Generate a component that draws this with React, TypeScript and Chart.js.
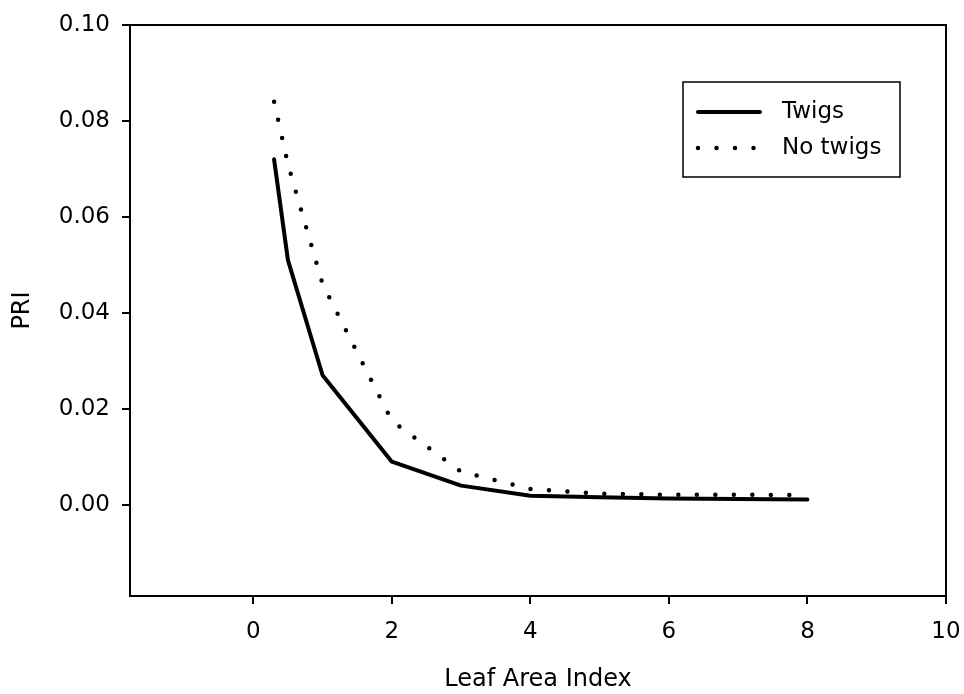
import { useEffect, useRef } from "react";
import { Chart, registerables } from "chart.js";

Chart.register(...registerables);

// Leaf area index (x) and PRI (y) for the two canopy variants
const leafAreaIndex = [0.3, 0.5, 1, 2, 3, 4, 5, 6, 7, 8];
const twigsPRI = [0.072, 0.051, 0.027, 0.009, 0.004, 0.0019, 0.0016, 0.0013, 0.0012, 0.0011];
const noTwigsPRI = [0.084, 0.071, 0.046, 0.0175, 0.0069, 0.0033, 0.0023, 0.0021, 0.0021, 0.002];
const seriesLabels = ["Twigs", "No twigs"];

// Axis ticks and ranges
const xTickValues = [0, 2, 4, 6, 8, 10];
const yTickValues = [0, 0.02, 0.04, 0.06, 0.08, 0.1];
const xRange = [-1.78, 10];
const yRange = [-0.019, 0.1];

const FONT_FAMILY = "'DejaVu Sans', 'Liberation Sans', Arial, sans-serif";
const INK = "#000000";

// Frame around the plotting area
const frameBox = {
  id: "frameBox",
  afterDatasetsDraw(chart: any) {
    const { ctx, chartArea } = chart;
    ctx.save();
    ctx.strokeStyle = INK;
    ctx.lineWidth = 2;
    ctx.strokeRect(chartArea.left, chartArea.top, chartArea.right - chartArea.left, chartArea.bottom - chartArea.top);
    ctx.restore();
  },
};

// Boxed legend inside the plot, upper right
const boxLegend = {
  id: "boxLegend",
  afterDraw(chart: any) {
    const { ctx, chartArea } = chart;
    const x0 = chartArea.right - 263;
    const y0 = chartArea.top + 57;
    const w = 217;
    const h = 95;
    ctx.save();
    ctx.fillStyle = "#ffffff";
    ctx.fillRect(x0, y0, w, h);
    ctx.strokeStyle = INK;
    ctx.lineWidth = 1.5;
    ctx.strokeRect(x0, y0, w, h);
    const rows = [y0 + 30, y0 + 66];
    chart.data.datasets.forEach((ds: any, i: number) => {
      const y = rows[i];
      ctx.beginPath();
      ctx.strokeStyle = ds.borderColor;
      ctx.lineWidth = ds.borderWidth;
      ctx.lineCap = ds.borderCapStyle || "butt";
      ctx.setLineDash(ds.borderDash || []);
      ctx.moveTo(x0 + 15, y);
      ctx.lineTo(x0 + 77, y);
      ctx.stroke();
      ctx.setLineDash([]);
      ctx.fillStyle = INK;
      ctx.font = `23px ${FONT_FAMILY}`;
      ctx.textBaseline = "middle";
      ctx.textAlign = "left";
      ctx.fillText(ds.label, x0 + 99, y);
    });
    ctx.restore();
  },
};

export default function App() {
  const canvasRef = useRef<HTMLCanvasElement | null>(null);

  useEffect(() => {
    document.body.style.margin = "0";
    const canvas = canvasRef.current;
    if (!canvas) return;

    const toPoints = (ys: number[]) => leafAreaIndex.map((x, i) => ({ x, y: ys[i] }));

    const tickFont = { family: FONT_FAMILY, size: 23 };
    const titleFont = { family: FONT_FAMILY, size: 24 };

    const chart = new Chart(canvas, {
      type: "line",
      data: {
        datasets: [
          {
            label: seriesLabels[0],
            data: toPoints(twigsPRI),
            borderColor: INK,
            borderWidth: 4,
            borderCapStyle: "round",
            borderJoinStyle: "round",
            pointRadius: 0,
            tension: 0,
            fill: false,
          },
          {
            label: seriesLabels[1],
            data: toPoints(noTwigsPRI),
            borderColor: INK,
            borderWidth: 4.5,
            borderDash: [0, 18.5],
            borderCapStyle: "round",
            pointRadius: 0,
            tension: 0,
            fill: false,
          },
        ],
      },
      options: {
        responsive: false,
        animation: false,
        events: [],
        layout: { padding: { top: 25, right: 18, left: 0, bottom: 0 } },
        plugins: {
          legend: { display: false },
          tooltip: { enabled: false },
        },
        scales: {
          x: {
            type: "linear",
            min: xRange[0],
            max: xRange[1],
            afterBuildTicks: (scale: any) => {
              scale.ticks = xTickValues.map((value) => ({ value }));
            },
            afterFit: (scale: any) => {
              scale.height = 98;
              scale.paddingLeft = 0;
              scale.paddingRight = 18;
            },
            ticks: {
              color: INK,
              font: tickFont,
              padding: 14,
              maxRotation: 0,
              autoSkip: false,
              callback: (v: any) => String(v),
            },
            grid: {
              display: true,
              drawOnChartArea: false,
              drawTicks: true,
              tickLength: 8,
              lineWidth: 2,
              color: INK,
            },
            border: { display: false },
            title: {
              display: true,
              text: "Leaf Area Index",
              color: INK,
              font: titleFont,
              padding: { top: 0, bottom: 0 },
            },
          },
          y: {
            type: "linear",
            min: yRange[0],
            max: yRange[1],
            afterBuildTicks: (scale: any) => {
              scale.ticks = yTickValues.map((value) => ({ value }));
            },
            afterFit: (scale: any) => {
              scale.width = 130;
              scale.paddingTop = 25;
              scale.paddingBottom = 0;
            },
            ticks: {
              color: INK,
              font: tickFont,
              padding: 12,
              autoSkip: false,
              callback: (v: any) => Number(v).toFixed(2),
            },
            grid: {
              display: true,
              drawOnChartArea: false,
              drawTicks: true,
              tickLength: 8,
              lineWidth: 2,
              color: INK,
            },
            border: { display: false },
            title: {
              display: true,
              text: "PRI",
              color: INK,
              font: titleFont,
              padding: { top: 8, bottom: 0 },
            },
          },
        },
      },
      plugins: [frameBox, boxLegend],
    } as any);

    return () => {
      chart.destroy();
    };
  }, []);

  return (
    <div style={{ width: 964, height: 694, background: "#ffffff" }}>
      <canvas ref={canvasRef} width={964} height={694} style={{ display: "block" }} />
    </div>
  );
}
